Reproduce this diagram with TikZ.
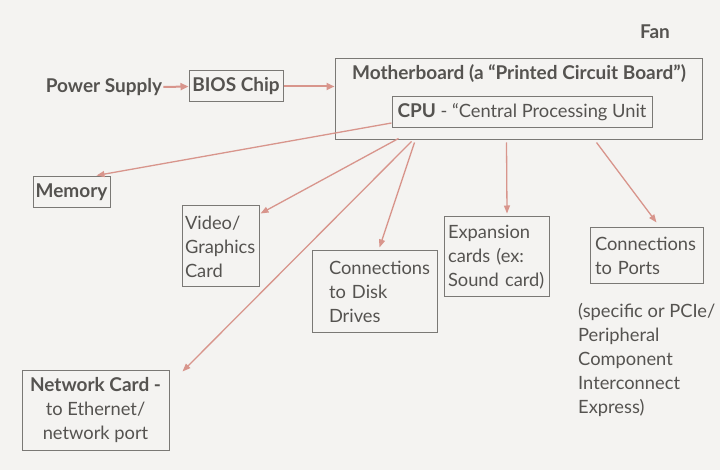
\documentclass[tikz,border=0pt]{standalone}
\usepackage{fontspec}
\setmainfont{Lato}
\usetikzlibrary{arrows.meta,calc}
\definecolor{bgc}{HTML}{F4F3F1}
\definecolor{boxc}{HTML}{7A7875}
\definecolor{txtc}{HTML}{555350}
\definecolor{arrc}{HTML}{D8958C}
\tikzset{
  box/.style={draw=boxc, line width=1pt, text=txtc, inner ysep=0pt, align=left},
  lbl/.style={text=txtc, inner sep=1pt},
  conn/.style={draw=arrc, line width=1.3pt, -{Triangle[length=8pt,width=6pt]}},
  hconn/.style={draw=arrc, line width=2pt, -{Triangle[length=8pt,width=7pt]}},
  fnt/.style={font=\fontsize{18.3}{24}\selectfont},
  bfnt/.style={font=\fontsize{19}{24}\selectfont\bfseries}
}
\begin{document}
\begin{tikzpicture}[x=1pt,y=-1pt,fnt]
\fill[bgc] (0,0) rectangle (720,470);
\useasboundingbox (0,0) rectangle (720,470);

\node[lbl,bfnt] (ps) at (104,87) {Power Supply};
\node[box,minimum width=94pt,minimum height=31pt,inner xsep=0pt,align=center,bfnt] (bios) at (236,86.5) {BIOS Chip};
\node[box,minimum width=367pt,minimum height=81pt] (mb) at (518.5,99.5) {};
\node[lbl,bfnt] (mbt) at (519,74) {Motherboard (a “Printed Circuit Board”)};
\node[box,minimum width=260pt,minimum height=31pt,inner xsep=0pt,align=center] (cpu) at (522,112.5) {{\fontsize{19}{24}\selectfont\bfseries CPU} - “Central Processing Unit};
\node[lbl,bfnt] (fan) at (655,32) {Fan};

\node[box,minimum width=77pt,minimum height=31pt,inner xsep=0pt,align=center,bfnt] (mem) at (71.5,192.5) {Memory};
\node[box,minimum height=81pt,inner xsep=3pt,text width=71pt] (video) at (220.5,246.5) {Video/\\Graphics\\Card};
\node[box,minimum height=81pt,inner xsep=17pt,text width=91pt] (disk) at (374.5,291.5) {Connections\\to Disk\\Drives};
\node[box,minimum height=80pt,inner xsep=4pt,text width=97pt] (exp) at (496.5,257) {Expansion\\cards (ex:\\Sound card)};
\node[box,minimum height=56pt,inner xsep=5pt,text width=103pt] (ports) at (646.5,256) {Connections\\to Ports};
\node[lbl,anchor=west,align=left,inner sep=0pt] (pcie) at (578,360) {(specific or PCIe/\\Peripheral\\Component\\Interconnect\\Express)};
\node[box,minimum width=147pt,minimum height=80pt,inner xsep=0pt,align=center] (net) at (95.5,410) {{\fontsize{19}{24}\selectfont\bfseries Network Card -}\\to Ethernet/\\network port};

\draw[hconn] (ps.east) -- (bios.west);
\draw[hconn] (bios.east) -- (bios.east -| mb.west);
\draw[conn] ([yshift=-10.5pt]cpu.west) -- ([xshift=64pt,yshift=1pt]mem.north west);
\draw[conn] ([xshift=64pt,yshift=2pt]mb.south west) -- ([xshift=1pt,yshift=-8pt]video.north east);
\draw[conn] ([xshift=77pt,yshift=-1pt]mb.south west) -- ([xshift=13pt,yshift=-2pt]net.north east);
\draw[conn] ([xshift=80pt,yshift=-2pt]mb.south west) -- ([xshift=68pt,yshift=3pt]disk.north west);
\draw[conn] ([xshift=172pt,yshift=-2pt]mb.south west) -- ([xshift=10.5pt,yshift=3pt]exp.north);
\draw[conn] ([xshift=262pt,yshift=-2pt]mb.south west) -- ([xshift=67pt,yshift=5pt]ports.north west);
\end{tikzpicture}
\end{document}
